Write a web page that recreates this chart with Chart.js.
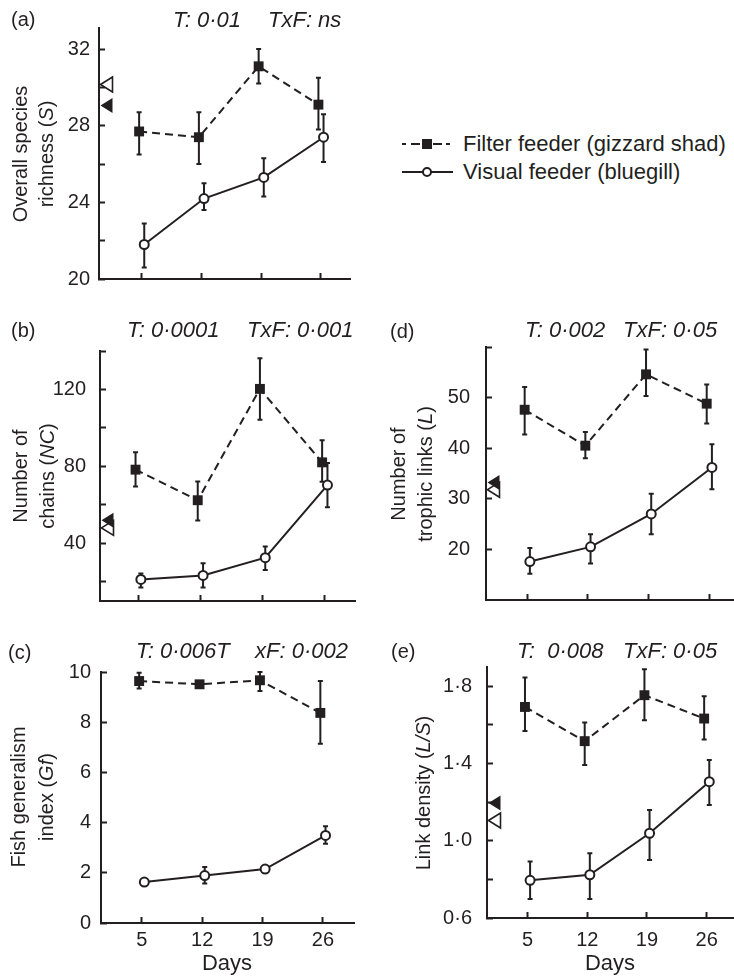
<!DOCTYPE html>
<html><head><meta charset="utf-8">
<script src="https://cdn.jsdelivr.net/npm/chart.js@4.4.0/dist/chart.umd.min.js"></script>
<style>
html,body{margin:0;padding:0;background:#fff;overflow:hidden;width:734px;height:976px;}
#wrap{position:relative;width:734px;height:976px;overflow:hidden;font-family:'Liberation Sans',Arial,sans-serif;color:#231f20;}
canvas{position:absolute;}
.t{position:absolute;white-space:pre;line-height:1;transform:translateY(-50%);}
.ann{font-style:italic;font-size:22px;}
.lab{font-size:20px;}
.leg{font-size:22px;}
.yt{position:absolute;white-space:nowrap;line-height:1;font-size:20px;transform:translate(-50%,-50%) rotate(-90deg);}
.xt{position:absolute;white-space:nowrap;line-height:1;font-size:22px;transform:translate(-50%,-50%);}
</style></head>
<body><div id="wrap"></div>
<script>
// ---------- data ----------
const days = [5, 12, 19, 26];
const dayTicks = [5, 12, 19, 26];

// (a) Overall species richness (S)
const richFilter   = [27.7, 27.4, 31.1, 29.1];
const richFilterLo = [26.5, 26.0, 30.2, 27.8];
const richFilterHi = [28.7, 28.7, 32.0, 30.5];
const richVisual   = [21.8, 24.2, 25.3, 27.4];
const richVisualLo = [20.6, 23.6, 24.3, 26.1];
const richVisualHi = [22.9, 25.0, 26.3, 28.6];
const richRefOpen = 30.15, richRefFilled = 29.05;
const richTicks  = [20, 22, 24, 26, 28, 30, 32];
const richLabels = [20, 24, 28, 32];

// (b) Number of chains (NC)
const chainFilter   = [78.3, 62.4, 120.3, 82.1];
const chainFilterLo = [69.6, 51.8, 104.3, 72.0];
const chainFilterHi = [87.3, 72.2, 136.2, 93.6];
const chainVisual   = [21.2, 23.3, 32.5, 70.3];
const chainVisualLo = [17.0, 17.0, 26.1, 58.8];
const chainVisualHi = [24.3, 29.6, 38.3, 81.7];
const chainRefOpen = 48, chainRefFilled = 52;
const chainTicks  = [20, 40, 60, 80, 100, 120, 140];
const chainLabels = [40, 80, 120];

// (c) Fish generalism index (Gf)
const gfFilter   = [9.64, 9.51, 9.67, 8.37];
const gfFilterLo = [9.34, 9.45, 9.24, 7.14];
const gfFilterHi = [9.97, 9.57, 10.0, 9.64];
const gfVisual   = [1.63, 1.89, 2.15, 3.49];
const gfVisualLo = [1.55, 1.57, 2.05, 3.16];
const gfVisualHi = [1.71, 2.23, 2.25, 3.85];
const gfTicks  = [0, 2, 4, 6, 8, 10];
const gfLabels = [0, 2, 4, 6, 8, 10];

// (d) Number of trophic links (L)
const linkFilter   = [47.6, 40.5, 54.6, 48.8];
const linkFilterLo = [42.7, 38.0, 50.3, 44.9];
const linkFilterHi = [52.1, 43.2, 59.5, 52.6];
const linkVisual   = [17.6, 20.5, 27.0, 36.2];
const linkVisualLo = [15.2, 17.2, 23.0, 31.9];
const linkVisualHi = [20.3, 23.0, 31.0, 40.8];
const linkRefOpen = 31.8, linkRefFilled = 33.2;
const linkTicks  = [20, 30, 40, 50, 60];
const linkLabels = [20, 30, 40, 50];

// (e) Link density (L/S)
const ldFilter   = [1.693, 1.516, 1.754, 1.633];
const ldFilterLo = [1.569, 1.392, 1.624, 1.524];
const ldFilterHi = [1.845, 1.612, 1.888, 1.748];
const ldVisual   = [0.795, 0.824, 1.039, 1.306];
const ldVisualLo = [0.698, 0.698, 0.900, 1.185];
const ldVisualHi = [0.893, 0.936, 1.160, 1.418];
const ldRefOpen = 1.105, ldRefFilled = 1.195;
const ldTicks  = [0.6, 0.8, 1.0, 1.2, 1.4, 1.6, 1.8];
const ldLabels = [0.6, 1.0, 1.4, 1.8];

// ---------- style ----------
const INK = '#231f20';
const FONT = "'Liberation Sans', Arial, sans-serif";
const DODGE = 0.3;
const wrap = document.getElementById('wrap');

const errPlugin = {
  id: 'errBars',
  beforeDatasetsDraw(chart) {
    const ctx = chart.ctx, xs = chart.scales.x, ys = chart.scales.y;
    ctx.save();
    ctx.strokeStyle = INK; ctx.lineWidth = 2; ctx.setLineDash([]);
    chart.data.datasets.forEach(ds => {
      ds.data.forEach((p, i) => {
        const x = xs.getPixelForValue(p.x);
        const y1 = ys.getPixelForValue(ds.errLo[i]);
        const y2 = ys.getPixelForValue(ds.errHi[i]);
        ctx.beginPath();
        ctx.moveTo(x, y1); ctx.lineTo(x, y2);
        ctx.moveTo(x - 2.5, y1); ctx.lineTo(x + 2.5, y1);
        ctx.moveTo(x - 2.5, y2); ctx.lineTo(x + 2.5, y2);
        ctx.stroke();
      });
    });
    ctx.restore();
  }
};

const refPlugin = {
  id: 'refMarks',
  afterDraw(chart, args, opts) {
    if (!opts || opts.open == null) return;
    const ctx = chart.ctx, ys = chart.scales.y, x0 = chart.chartArea.left + 1.5;
    const tri = (v, filled) => {
      const y = ys.getPixelForValue(v);
      ctx.beginPath();
      ctx.moveTo(x0, y); ctx.lineTo(x0 + 12, y - 7.5); ctx.lineTo(x0 + 12, y + 7.5); ctx.closePath();
      if (filled) { ctx.fillStyle = INK; ctx.fill(); }
      else { ctx.fillStyle = '#fff'; ctx.fill(); ctx.lineWidth = 1.6; ctx.strokeStyle = INK; ctx.stroke(); }
    };
    ctx.save();
    tri(opts.open, false);
    tri(opts.filled, true);
    ctx.restore();
  }
};

function zeroPad(s) { s.paddingTop = 0; s.paddingBottom = 0; s.paddingLeft = 0; s.paddingRight = 0; }

function makePanel(cfg) {
  const padTop = 14, padRight = 8, xH = 40;
  const cl = cfg.canvasLeft;
  const yW = cfg.left - cl;
  const w = cfg.right - cl + padRight;
  const h = padTop + (cfg.bottom - cfg.top) + xH;
  const cv = document.createElement('canvas');
  cv.width = w; cv.height = h;
  cv.style.left = cl + 'px'; cv.style.top = (cfg.top - padTop) + 'px';
  cv.style.width = w + 'px'; cv.style.height = h + 'px';
  wrap.appendChild(cv);
  const fmt = cfg.fmt || (v => String(v));
  new Chart(cv, {
    type: 'line',
    data: {
      datasets: [
        {
          label: 'Filter feeder (gizzard shad)',
          data: days.map((d, i) => ({ x: d - DODGE, y: cfg.filter[i] })),
          errLo: cfg.filterLo, errHi: cfg.filterHi,
          borderColor: INK, borderWidth: 2, borderDash: [8, 5],
          pointStyle: 'rect', pointRadius: 7, pointHoverRadius: 7,
          pointBackgroundColor: INK, pointBorderColor: INK, pointBorderWidth: 0,
          clip: false, tension: 0, fill: false
        },
        {
          label: 'Visual feeder (bluegill)',
          data: days.map((d, i) => ({ x: d + DODGE, y: cfg.visual[i] })),
          errLo: cfg.visualLo, errHi: cfg.visualHi,
          borderColor: INK, borderWidth: 2,
          pointStyle: 'circle', pointRadius: 4.5, pointHoverRadius: 4.5,
          pointBackgroundColor: '#fff', pointBorderColor: INK, pointBorderWidth: 2,
          clip: false, tension: 0, fill: false
        }
      ]
    },
    options: {
      responsive: false, animation: false, devicePixelRatio: 1,
      events: [],
      layout: { padding: { top: padTop, right: padRight, left: 0, bottom: 0 } },
      plugins: {
        legend: { display: false }, tooltip: { enabled: false },
        refMarks: { open: cfg.refOpen, filled: cfg.refFilled }
      },
      scales: {
        x: {
          type: 'linear', min: cfg.xMin, max: cfg.xMax,
          afterBuildTicks: s => { s.ticks = dayTicks.map(v => ({ value: v })); },
          afterFit: s => { s.height = xH; zeroPad(s); },
          grid: { display: true, drawOnChartArea: false, drawTicks: true, tickLength: -6, tickWidth: 2, tickColor: INK },
          border: { display: true, width: 2, color: INK },
          ticks: {
            autoSkip: false, maxRotation: 0, minRotation: 0, padding: cfg.xPad,
            font: { family: FONT, size: 20 }, color: INK,
            callback: v => cfg.showX ? String(v) : ''
          }
        },
        y: {
          type: 'linear', min: cfg.yMin, max: cfg.yMax,
          afterBuildTicks: s => { s.ticks = cfg.yTicks.map(v => ({ value: v })); },
          afterFit: s => { s.width = yW; zeroPad(s); },
          grid: { display: true, drawOnChartArea: false, drawTicks: true, tickLength: -6, tickWidth: 2, tickColor: INK },
          border: { display: true, width: 2, color: INK },
          ticks: {
            autoSkip: false, padding: cfg.yPad,
            font: { family: FONT, size: 20 }, color: INK,
            callback: v => cfg.yLabels.includes(v) ? fmt(v) : ''
          }
        }
      }
    },
    plugins: [errPlugin, refPlugin]
  });
}

const dot = v => v.toFixed(1).replace('.', '\u00B7');

// ---------- panels ----------
makePanel({ canvasLeft: 0, left: 99, right: 350, top: 28, bottom: 279, xMin: 0, xMax: 29.4,
  yMin: 20, yMax: 33.1, yTicks: richTicks, yLabels: richLabels, yPad: 15, xPad: 11, showX: false,
  filter: richFilter, filterLo: richFilterLo, filterHi: richFilterHi,
  visual: richVisual, visualLo: richVisualLo, visualHi: richVisualHi,
  refOpen: richRefOpen, refFilled: richRefFilled });

makePanel({ canvasLeft: 0, left: 100, right: 355, top: 351, bottom: 601, xMin: 0.7, xMax: 29.4,
  yMin: 10, yMax: 140, yTicks: chainTicks, yLabels: chainLabels, yPad: 20, xPad: 11, showX: false,
  filter: chainFilter, filterLo: chainFilterLo, filterHi: chainFilterHi,
  visual: chainVisual, visualLo: chainVisualLo, visualHi: chainVisualHi,
  refOpen: chainRefOpen, refFilled: chainRefFilled });

makePanel({ canvasLeft: 0, left: 101, right: 354, top: 672, bottom: 923, xMin: 0.28, xMax: 29.6,
  yMin: 0, yMax: 10, yTicks: gfTicks, yLabels: gfLabels, yPad: 16, xPad: 11, showX: true,
  filter: gfFilter, filterLo: gfFilterLo, filterHi: gfFilterHi,
  visual: gfVisual, visualLo: gfVisualLo, visualHi: gfVisualHi,
  refOpen: null, refFilled: null });

makePanel({ canvasLeft: 372, left: 486, right: 740, top: 347, bottom: 600, xMin: 0.24, xMax: 29.54,
  yMin: 10, yMax: 60, yTicks: linkTicks, yLabels: linkLabels, yPad: 22, xPad: 11, showX: false,
  filter: linkFilter, filterLo: linkFilterLo, filterHi: linkFilterHi,
  visual: linkVisual, visualLo: linkVisualLo, visualHi: linkVisualHi,
  refOpen: linkRefOpen, refFilled: linkRefFilled });

makePanel({ canvasLeft: 372, left: 487, right: 740, top: 667, bottom: 918, xMin: 0.25, xMax: 29.9,
  yMin: 0.6, yMax: 1.9, yTicks: ldTicks, yLabels: ldLabels, yPad: 21, xPad: 16, showX: true, fmt: dot,
  filter: ldFilter, filterLo: ldFilterLo, filterHi: ldFilterHi,
  visual: ldVisual, visualLo: ldVisualLo, visualHi: ldVisualHi,
  refOpen: ldRefOpen, refFilled: ldRefFilled });

// ---------- text ----------
function addText(cls, html, x, y) {
  const d = document.createElement('div');
  d.className = cls; d.innerHTML = html;
  d.style.left = x + 'px'; d.style.top = y + 'px';
  wrap.appendChild(d);
}
// panel letters
addText('t lab', '(a)', 11, 19);
addText('t lab', '(b)', 11, 330);
addText('t lab', '(c)', 8, 652);
addText('t lab', '(d)', 390, 331);
addText('t lab', '(e)', 391, 651);
// test annotations
addText('t ann', 'T: 0\u00B701', 173, 20);
addText('t ann', 'TxF: ns', 268, 20);
addText('t ann', 'T: 0\u00B70001', 127, 330);
addText('t ann', 'TxF: 0\u00B7001', 247, 330);
addText('t ann', 'T: 0\u00B7006T', 136, 651);
addText('t ann', 'xF: 0\u00B7002', 255, 651);
addText('t ann', 'T: 0\u00B7002', 525, 330);
addText('t ann', 'TxF: 0\u00B705', 623, 330);
addText('t ann', 'T:  0\u00B7008', 517, 651);
addText('t ann', 'TxF: 0\u00B705', 623, 651);
// y-axis titles
addText('yt', 'Overall species', 20, 154);
addText('yt', 'richness (<i>S</i>)', 46, 154);
addText('yt', 'Number of', 20, 476);
addText('yt', 'chains (<i>NC</i>)', 47, 476);
addText('yt', 'Fish generalism', 18, 797);
addText('yt', 'index (<i>Gf</i>)', 46, 797);
addText('yt', 'Number of', 398, 474);
addText('yt', 'trophic links (<i>L</i>)', 425, 474);
addText('yt', 'Link density (<i>L/S</i>)', 423, 793);
// x titles
addText('xt', 'Days', 227, 963);
addText('xt', 'Days', 610, 963);
// legend
addText('t leg', 'Filter feeder (gizzard shad)', 463, 144);
addText('t leg', 'Visual feeder (bluegill)', 463, 172);
const svgNS = 'http://www.w3.org/2000/svg';
const sv = document.createElementNS(svgNS, 'svg');
sv.setAttribute('width', '60'); sv.setAttribute('height', '60');
sv.style.position = 'absolute'; sv.style.left = '398px'; sv.style.top = '128px';
sv.innerHTML =
  '<line x1="4" y1="16" x2="55" y2="16" stroke="' + INK + '" stroke-width="2" stroke-dasharray="4 5 9 4"/>' +
  '<rect x="24" y="11" width="10" height="10" fill="' + INK + '"/>' +
  '<line x1="4" y1="44" x2="55" y2="44" stroke="' + INK + '" stroke-width="2"/>' +
  '<circle cx="29" cy="44" r="4" fill="#fff" stroke="' + INK + '" stroke-width="2"/>';
wrap.appendChild(sv);
</script>
</body></html>
